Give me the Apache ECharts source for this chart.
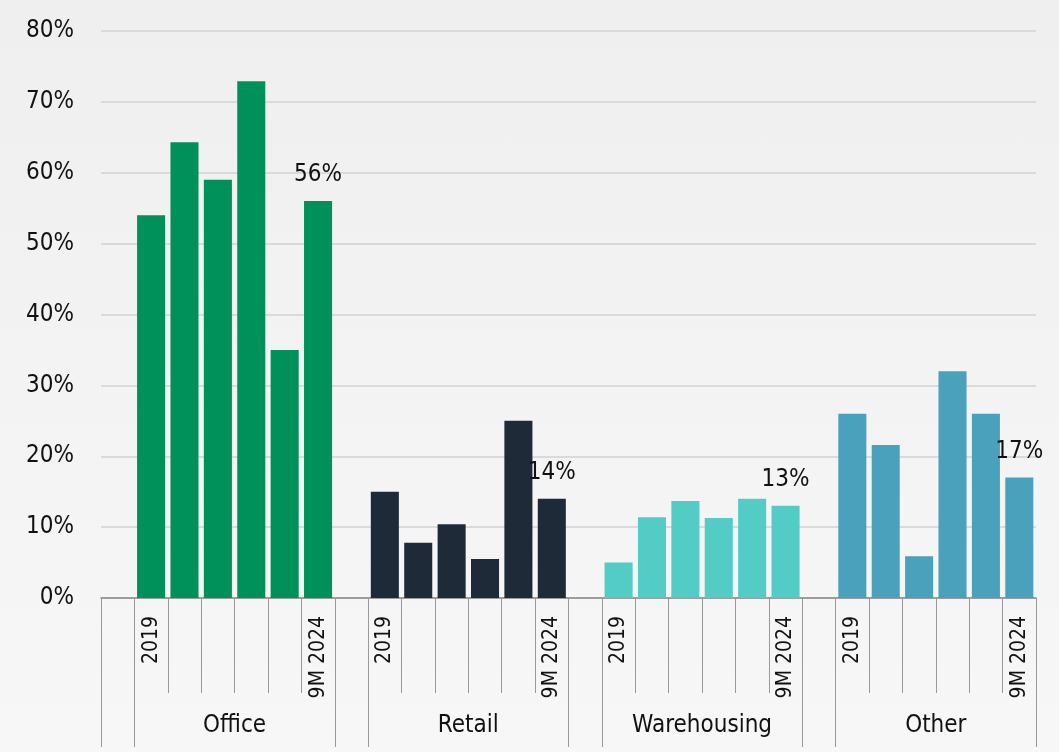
<!DOCTYPE html>
<html>
<head>
<meta charset="utf-8">
<script src="https://cdn.jsdelivr.net/npm/echarts@6/dist/echarts.min.js"></script>
<style>
html,body{margin:0;padding:0;width:1059px;height:752px;overflow:hidden;background:linear-gradient(#efefef,#f7f7f7);}
#c{width:1059px;height:752px;}
</style>
</head>
<body>
<div id="c"></div>
<script>
var FONT = '"DejaVu Sans Condensed","DejaVu Sans",sans-serif';
var groups = ['Office', 'Retail', 'Warehousing', 'Other'];
var years = ['2019', '2020', '2021', '2022', '2023', '9M 2024'];
var officeValues = [54, 64.3, 59, 72.9, 35, 56];
var retailValues = [15, 7.8, 10.4, 5.5, 25, 14];
var warehousingValues = [5, 11.4, 13.7, 11.3, 14, 13];
var otherValues = [26, 21.6, 5.9, 32, 26, 17];
var colors = ['#00915a', '#1f2a38', '#52ccc5', '#4aa1bc'];
var yTicks = [0, 10, 20, 30, 40, 50, 60, 70, 80];

var seriesValues = [officeValues, retailValues, warehousingValues, otherValues];
var slots = [];
groups.forEach(function (g) {
  slots.push('');
  years.forEach(function (y) { slots.push(g + '|' + y); });
});
var slotLabel = function (v) {
  if (!v) return '';
  var y = v.split('|')[1];
  return (y === years[0] || y === years[years.length - 1]) ? y : '';
};

var series = seriesValues.map(function (vals, gi) {
  var data = slots.map(function () { return '-'; });
  vals.forEach(function (v, yi) {
    var idx = gi * 7 + 1 + yi;
    var item = { value: v };
    if (yi === vals.length - 1) {
      item.label = { show: true };
    }
    data[idx] = item;
  });
  return {
    type: 'bar',
    name: groups[gi],
    stack: 'all',
    data: data,
    barCategoryGap: '16%',
    itemStyle: { color: colors[gi] },
    label: {
      show: false,
      position: 'top',
      distance: 14,
      formatter: function (p) { return Math.round(p.value) + '%'; },
      fontFamily: FONT,
      fontSize: 24,
      color: '#111'
    },
    emphasis: { disabled: true },
    animation: false
  };
});

var groupTickValues = [];
var groupLabelValues = [];
groups.forEach(function (g, gi) {
  groupTickValues.push(gi * 7, gi * 7 + 1);
  groupLabelValues.push(gi * 7 + 4);
});
groupTickValues.push(groups.length * 7);

var chart = echarts.init(document.getElementById('c'));
chart.setOption({
  animation: false,
  grid: { left: 101, right: 23, top: 31, bottom: 154 },
  yAxis: {
    type: 'value',
    min: yTicks[0],
    max: yTicks[yTicks.length - 1],
    interval: 10,
    axisLine: { show: false },
    axisTick: { show: false },
    splitLine: { lineStyle: { color: '#dadada', width: 2 } },
    axisLabel: {
      formatter: '{value}%',
      fontFamily: FONT,
      fontSize: 24,
      color: '#111',
      margin: 27
    }
  },
  xAxis: [
    {
      type: 'category',
      data: slots,
      position: 'bottom',
      axisLine: { lineStyle: { color: '#888', width: 1.5 } },
      axisTick: { show: true, interval: 0, length: 95, lineStyle: { color: '#999', width: 1 } },
      axisLabel: {
        interval: 0,
        rotate: 90,
        formatter: slotLabel,
        fontFamily: FONT,
        fontSize: 21,
        color: '#111',
        margin: 18,
        padding: [0, 0, 8, 0]
      }
    },
    {
      type: 'value',
      position: 'bottom',
      min: 0,
      max: groups.length * 7,
      axisLine: { show: false },
      splitLine: { show: false },
      axisTick: { show: true, customValues: groupTickValues, length: 149, lineStyle: { color: '#999', width: 1 } },
      axisLabel: {
        customValues: groupLabelValues,
        formatter: function (v) { return groups[Math.round((v - 4) / 7)] || ''; },
        fontFamily: FONT,
        fontSize: 24,
        color: '#111',
        margin: 116
      }
    }
  ],
  series: series
});
</script>
</body>
</html>
